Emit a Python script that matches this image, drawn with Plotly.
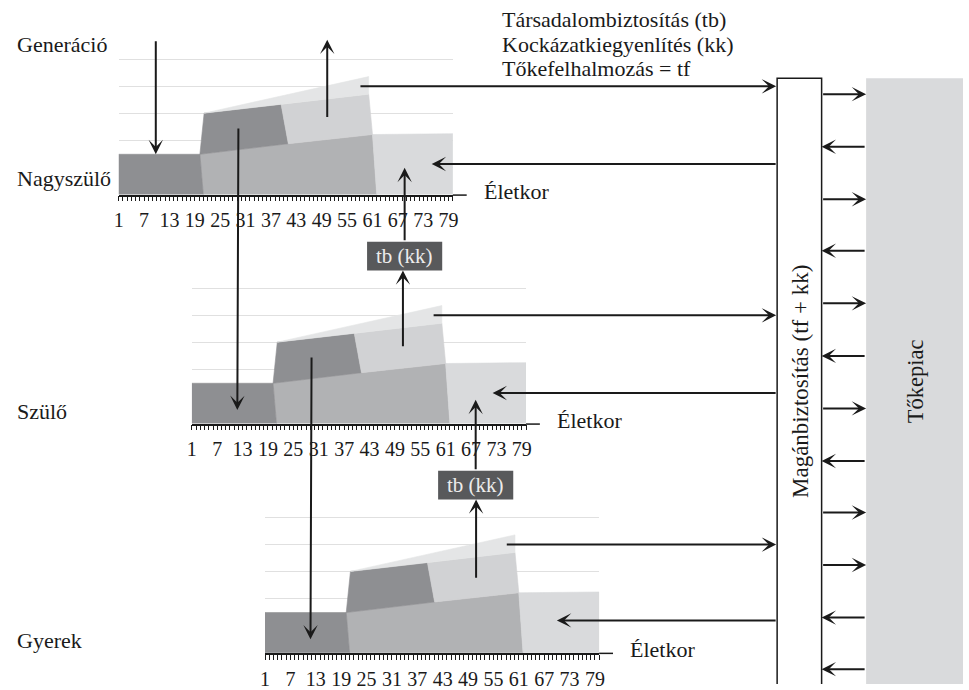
import plotly.graph_objects as go

W, H = 969, 690
FONT = "Liberation Serif"
INK = "#1a1a1a"

# ---------------- data ----------------
AGE_TICKS = [1, 7, 13, 19, 25, 31, 37, 43, 49, 55, 61, 67, 73, 79]
AGE_MINOR = list(range(1, 81))
GRID_LEVELS = [1, 2, 3, 4, 5]
GENERATIONS = ["Nagyszülő", "Szülő", "Gyerek"]

# life-cycle blocks (age, level) – same profile for each generation
CHILD_AGE = [1, 20.2, 21.0, 1]
CHILD_LVL = [1.49, 1.49, 0, 0]
WORK_AGE = [20.2, 41.1, 61.0, 62.0, 21.0]
WORK_LVL = [1.49, 1.88, 2.22, 0, 0]
SAVE_AGE = [20.2, 21.2, 39.4, 41.1]
SAVE_LVL = [1.49, 3.01, 3.33, 1.88]
RISK_AGE = [39.4, 60.1, 61.0, 41.1]
RISK_LVL = [3.33, 3.71, 2.22, 1.88]
WEDGE_AGE = [21.2, 60.1, 60.1, 39.4]
WEDGE_LVL = [3.01, 4.36, 3.71, 3.33]
RET_AGE = [61.0, 80, 80, 62.0]
RET_LVL = [2.22, 2.25, 0, 0]

# flow arrows (panel-relative age / level)
OUT_RIGHT = [(57.8, 4.0), (57.8, 4.0), (57.8, 4.0)]         # to private insurance
IN_LEFT = [(75.0, 1.13), (72.1, 1.13), (70.0, 1.2)]         # from private insurance
DOWN_FROM = [(29.3, 2.5), (29.3, 2.5)]                      # to next generation
DOWN_TO = [(11.75, 0.5), (11.75, 0.5)]
UP_FROM = [(50.3, 2.81), (50.9, 2.8), (50.9, 2.72)]
RET_TIP = [(68.6, 0.99), (68.1, 0.88)]
MARKET_Y = [95, 148, 201, 253, 306, 359, 412, 465, 517, 570, 623, 675]
MARKET_DIR = ["r", "l", "r", "l", "r", "l", "r", "l", "r", "r", "l", "l"]

TOP_LINES = ["Társadalombiztosítás (tb)", "Kockázatkiegyenlítés (kk)", "Tőkefelhalmozás = tf"]

# ---------------- layout geometry ----------------
PANEL_X0 = [115, 189, 263]
PANEL_BASE = [196.3, 427.3, 658.6]
PANEL_W = 338
UNIT = 27.3
YMAX = 6
AGE_MIN, AGE_MAX = 1, 80

C_DARK = "#8e8f92"
C_MED = "#b1b2b4"
C_LMID = "#d1d2d4"
C_WEDGE = "#e4e5e6"
C_RET = "#d9dadc"
C_GRID = "#e0e0e0"


def px(i, age, lvl):
    x = PANEL_X0[i] + (age - AGE_MIN) * PANEL_W / (AGE_MAX - AGE_MIN)
    y = PANEL_BASE[i] - lvl * UNIT
    return x, y


fig = go.Figure()
layout = dict(
    width=W, height=H, margin=dict(l=0, r=0, t=0, b=0),
    paper_bgcolor="white", plot_bgcolor="rgba(0,0,0,0)", showlegend=False,
    font=dict(family=FONT, color=INK),
)

blocks = [
    (WORK_AGE, WORK_LVL, C_MED), (CHILD_AGE, CHILD_LVL, C_DARK),
    (SAVE_AGE, SAVE_LVL, C_DARK), (RISK_AGE, RISK_LVL, C_LMID),
    (WEDGE_AGE, WEDGE_LVL, C_WEDGE), (RET_AGE, RET_LVL, C_RET),
]

for i in range(3):
    n = "" if i == 0 else str(i + 1)
    x0 = PANEL_X0[i]
    base = PANEL_BASE[i]
    layout["xaxis" + n] = dict(
        domain=[x0 / W, (x0 + PANEL_W) / W], range=[AGE_MIN, AGE_MAX], anchor="y" + n,
        tickmode="array", tickvals=AGE_TICKS, ticktext=[str(a) for a in AGE_TICKS],
        ticks="outside", ticklen=5, tickwidth=1, tickcolor=INK, ticklabelstandoff=2,
        minor=dict(tickmode="array", tickvals=AGE_MINOR, ticks="outside", ticklen=5,
                   tickwidth=1, tickcolor=INK, showgrid=False),
        showline=True, linecolor=INK, linewidth=1.5, showgrid=False, zeroline=False,
        tickfont=dict(family=FONT, size=20, color=INK), fixedrange=True,
    )
    layout["yaxis" + n] = dict(
        domain=[1 - base / H, 1 - (base - YMAX * UNIT) / H], range=[0, YMAX], anchor="x" + n,
        tickmode="array", tickvals=GRID_LEVELS, showticklabels=False, ticks="",
        showgrid=True, gridcolor=C_GRID, gridwidth=1.2, zeroline=False, showline=False,
        fixedrange=True,
    )
    for ages, lvls, col in blocks:
        fig.add_trace(go.Scatter(
            x=ages + [ages[0]], y=lvls + [lvls[0]], fill="toself", fillcolor=col,
            mode="lines", line=dict(color=col, width=0.6), hoverinfo="skip",
            xaxis="x" + n, yaxis="y" + n,
        ))

# overlay pixel frame
layout["xaxis4"] = dict(domain=[0, 1], range=[0, W], visible=False, anchor="y4", fixedrange=True)
layout["yaxis4"] = dict(domain=[0, 1], range=[H, 0], visible=False, anchor="x4", fixedrange=True)
fig.add_trace(go.Scatter(x=[0], y=[0], mode="markers", marker=dict(opacity=0),
                         hoverinfo="skip", xaxis="x4", yaxis="y4"))

shapes = []
ann = []


def arrow(x1, y1, x2, y2):
    ann.append(dict(x=x2, y=y2, ax=x1, ay=y1, xref="x4", yref="y4", axref="x4", ayref="y4",
                    text="", showarrow=True, arrowhead=3, arrowsize=1.2, arrowwidth=2,
                    arrowcolor=INK, standoff=0, startstandoff=0))


def text(x, y, s, size=22, xanchor="left", angle=0, color=INK):
    ann.append(dict(x=x, y=y, xref="x4", yref="y4", text=s, showarrow=False,
                    xanchor=xanchor, yanchor="middle", textangle=angle,
                    font=dict(family=FONT, size=size, color=color)))


BOX_L, BOX_R, BOX_T = 781, 826, 79
MKT_L = 871

# axis line extensions and "Életkor"
for i in range(3):
    x0, base = PANEL_X0[i], PANEL_BASE[i]
    shapes.append(dict(type="line", xref="x4", yref="y4", x0=x0 + PANEL_W, x1=x0 + 352,
                       y0=base + 0.5, y1=base + 0.5, line=dict(color=INK, width=1.5)))
    text(x0 + 367, base - 3, "Életkor")

# side labels
text(10, 45, "Generáció")
text(10, PANEL_BASE[0] - 16, GENERATIONS[0])
text(10, PANEL_BASE[1] - 12, GENERATIONS[1])
text(10, PANEL_BASE[2] - 12.5, GENERATIONS[2])

# top legend text
for k, s in enumerate(TOP_LINES):
    text(501, 20 + 24.5 * k, s)

# private insurance box and capital market
shapes.append(dict(type="rect", xref="x4", yref="y4", x0=MKT_L, x1=W + 5, y0=BOX_T, y1=H + 5,
                   fillcolor=C_RET, line=dict(width=0), layer="below"))
shapes.append(dict(type="rect", xref="x4", yref="y4", x0=BOX_L, x1=BOX_R, y0=BOX_T, y1=H + 5,
                   fillcolor="white", line=dict(color=INK, width=1.5), layer="below"))
text((BOX_L + BOX_R) / 2 + 1, 385, "Magánbiztosítás (tf + kk)", size=23, xanchor="center", angle=-90)
text(921, 385, "Tőkepiac", size=22.5, xanchor="center", angle=-90)

for y, d in zip(MARKET_Y, MARKET_DIR):
    if d == "r":
        arrow(BOX_R, y, MKT_L, y)
    else:
        arrow(MKT_L, y, BOX_R, y)

# generation flows
for i in range(3):
    sx, sy = px(i, *OUT_RIGHT[i])
    arrow(sx, sy, BOX_L - 1, sy)
    tx, ty = px(i, *IN_LEFT[i])
    arrow(BOX_L, ty, tx, ty)

# inheritance into grandparent from above
gx, gy = px(0, 9.77, 1.49)
arrow(gx, 40, gx, gy)

for i in range(2):
    fx, fy = px(i, *DOWN_FROM[i])
    tx, ty = px(i + 1, *DOWN_TO[i])
    arrow(fx, fy, tx, ty)

# upward flows
ux, uy = px(0, *UP_FROM[0])
arrow(ux, uy, ux, 40)

TB_W, TB_H = 76, 29
for i in range(2):
    cx, cy = px(i, *RET_TIP[i])
    box_top = PANEL_BASE[i] + 47.5
    box_bot = box_top + TB_H
    shapes.append(dict(type="rect", xref="x4", yref="y4", x0=cx - TB_W / 2, x1=cx + TB_W / 2,
                       y0=box_top, y1=box_bot, fillcolor="#58595b", line=dict(width=0)))
    text(cx, (box_top + box_bot) / 2, "tb (kk)", size=21, xanchor="center", color="#ececec")
    arrow(cx, box_top, cx, cy)
    fx, fy = px(i + 1, *UP_FROM[i + 1])
    arrow(fx, fy, fx, box_bot)

layout["shapes"] = shapes
layout["annotations"] = ann
fig.update_layout(**layout)

POST = ("document.body.style.margin='0';document.body.style.overflow='hidden';"
        "document.documentElement.style.overflow='hidden';")
fig.write_html("out.html", config={"displayModeBar": False}, post_script=POST)
